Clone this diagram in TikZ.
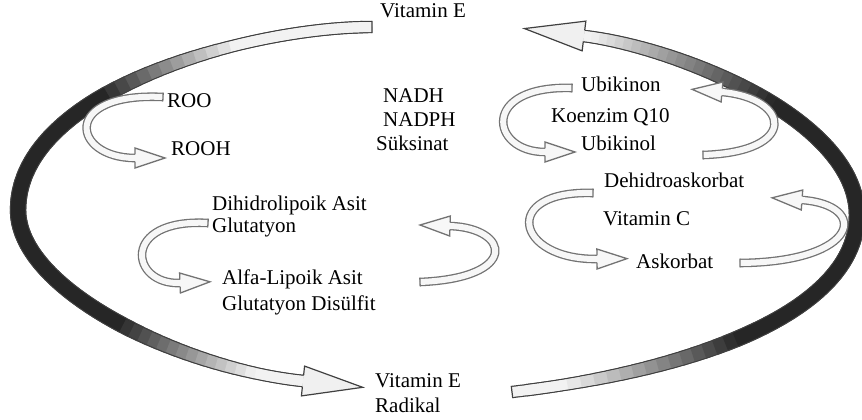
\documentclass[tikz,border=0pt]{standalone}
\usepackage{fontspec}
\setmainfont{Liberation Serif}
\usetikzlibrary{calc}
\newcommand{\bandarc}[5]{%
\foreach \i[count=\j] in {0,...,79}{
\pgfmathtruncatemacro\k{min(\i+2,80)}
\pgfmathsetmacro\f{max(0,min(1,(\i/80-#2)/#3,(#4-\i/80)/#5))}
\pgfmathsetmacro\w{12.4+4*\f}
\draw[black!75,line width=\w pt,line join=round](#1\i)--(#1\j)--(#1\k);}
\foreach \i[count=\j] in {0,...,79}{
\pgfmathtruncatemacro\k{min(\i+2,80)}
\pgfmathsetmacro\f{max(0,min(1,(\i/80-#2)/#3,(#4-\i/80)/#5))}
\pgfmathsetmacro\w{10+4*\f}
\pgfmathsetmacro\g{5+80*\f}
\draw[black!\g,line width=\w pt,line join=round](#1\i)--(#1\j)--(#1\k);}
\draw[black!75,line width=1.2pt]($(#10)!6.2pt!90:(#11)$)--($(#10)!6.2pt!-90:(#11)$);}
\newcommand{\loopar}[4]{%
\draw[loopbody]#1 .. controls #2 and #3 .. #4;
\draw[black!55,line width=1.3pt]($#1!4.3pt!90:#2$)--($#1!4.3pt!-90:#2$);
\filldraw[loophead]($#4!3.6pt!90:#3$)--($#4!10pt!90:#3$)--($#4!-30pt!#3$)--($#4!10pt!-90:#3$)--($#4!3.6pt!-90:#3$);}
\begin{document}
\begin{tikzpicture}[x=1pt,y=-1pt,
lbl/.style={font=\fontsize{21}{25}\selectfont,inner sep=0pt,anchor=base west},
loopbody/.style={draw=black!55,double=black!3,double distance=6pt,line width=1.3pt},
loophead/.style={fill=black!3,draw=black!55,line width=1.3pt,line join=miter},
bighead/.style={fill=black!6,draw=black!75,line width=1.2pt}]
\useasboundingbox(0,0)rectangle(862,420);
\foreach \i in {0,...,40}{
\pgfmathsetmacro\t{\i/40}
\pgfmathtruncatemacro\k{\i+40}
\path(372,27)..controls(250,27)and(18,90)..(18,210)coordinate[pos=\t](l\i);
\path(18,210)..controls(18,290)and(180,368)..(303,381)coordinate[pos=\t](l\k);
\path(512,392)..controls(700,370)and(857,310)..(857,215)coordinate[pos=\t](r\i);
\path(857,215)..controls(857,120)and(680,48)..(584,36)coordinate[pos=\t](r\k);}
\bandarc{l}{0.15}{0.15}{0.93}{0.18}
\bandarc{r}{0.04}{0.18}{0.98}{0.26}
\filldraw[bighead]($(l80)!5.6pt!90:(180,368)$)--($(l80)!15pt!90:(180,368)$)--($(l80)!-60pt!(180,368)$)--($(l80)!15pt!-90:(180,368)$)--($(l80)!5.6pt!-90:(180,368)$);
\filldraw[bighead]($(r80)!5.6pt!90:(680,48)$)--($(r80)!15pt!90:(680,48)$)--($(r80)!-60pt!(680,48)$)--($(r80)!15pt!-90:(680,48)$)--($(r80)!5.6pt!-90:(680,48)$);
\loopar{(163,97)}{(60,92)}{(72,158)}{(135,158)}
\loopar{(208,223)}{(120,218)}{(130,285)}{(180,283)}
\loopar{(420,282)}{(520,278)}{(510,228)}{(450,226)}
\loopar{(572,88)}{(480,85)}{(490,152)}{(545,152)}
\loopar{(703,155)}{(800,152)}{(790,98)}{(722,92)}
\loopar{(593,193)}{(500,190)}{(515,260)}{(597,259)}
\loopar{(740,263)}{(860,262)}{(870,205)}{(802,200)}
\node[lbl](vite)at(380,18){Vitamin E};
\node[lbl](roo)at(167,107){ROO};
\node[lbl](rooh)at(171,155){ROOH};
\node[lbl](nadh)at(383,102){NADH};
\node[lbl](nadph)at(383,126){NADPH};
\node[lbl](suk)at(376,150){Süksinat};
\node[lbl](ubn)at(581,92){Ubikinon};
\node[lbl](q10)at(551,122){Koenzim Q10};
\node[lbl](ubl)at(581,150){Ubikinol};
\node[lbl](dha)at(604,187){Dehidroaskorbat};
\node[lbl](vitc)at(603,225){Vitamin C};
\node[lbl](asc)at(636,268){Askorbat};
\node[lbl](dla)at(212,210){Dihidrolipoik Asit};
\node[lbl](glu)at(212,232){Glutatyon};
\node[lbl](ala)at(222,284){Alfa-Lipoik Asit};
\node[lbl](gds)at(222,310){Glutatyon Disülfit};
\node[lbl](virad)at(375,387){Vitamin E};
\node[lbl](rad)at(375,412){Radikal};
\end{tikzpicture}
\end{document}
